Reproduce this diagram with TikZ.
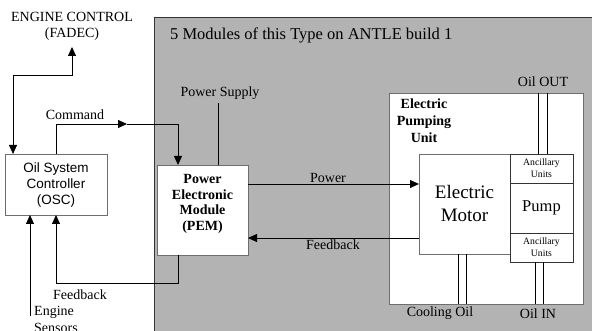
\documentclass[tikz,border=0pt]{standalone}
\usepackage{fontspec}
\setmainfont{Liberation Serif}
\newfontfamily\sansf{Liberation Sans}
\usetikzlibrary{arrows.meta}
\definecolor{bg}{RGB}{179,179,179}
\definecolor{bord}{RGB}{110,110,110}
\begin{document}
\begin{tikzpicture}[x=1pt,y=-1pt,
  box/.style={draw=bord, fill=white, line width=0.8pt, inner sep=0pt, outer sep=0pt, anchor=north west},
  dbox/.style={box, draw=black!80},
  txt/.style={font=\fontsize{14}{16}\selectfont, inner sep=0pt, align=center},
  wire/.style={line width=0.8pt, draw=black},
  tip/.style={-{Triangle[length=9pt,width=8pt]}},
  tips/.style={{Triangle[length=9pt,width=8pt]}-{Triangle[length=9pt,width=8pt]}},
]
\useasboundingbox (0,0) rectangle (592,331);
\fill[white] (0,0) rectangle (592,331);
% grey region
\node[box, draw=black!80, fill=bg, minimum width=460pt, minimum height=330pt] (region) at (154,17) {};
\node[txt, font=\fontsize{16.5}{18}\selectfont, anchor=west] (title) at (170,35) {5 Modules of this Type on ANTLE build 1};

% boxes
\node[box, minimum width=102pt, minimum height=61pt] (osc) at (5,154) {};
\node[txt, font=\sansf\fontsize{13.5}{16}\selectfont] (osct) at (56,185) {Oil System\\Controller\\(OSC)};
\node[box, minimum width=91pt, minimum height=90pt] (pem) at (157,165) {};
\node[txt, font=\bfseries\fontsize{14}{15.6}\selectfont] (pemt) at (202.5,204) {Power\\Electronic\\Module\\(PEM)};
\node[box, minimum width=194pt, minimum height=211pt] (epu) at (389,93) {};
\node[txt, font=\bfseries\fontsize{14}{17}\selectfont] (eput) at (424,121) {Electric\\Pumping\\Unit};
\node[box, minimum width=91pt, minimum height=100pt, font=\fontsize{19}{23}\selectfont, align=center] (motor) at (419,154) {Electric\\Motor};
\node[dbox, minimum width=63pt, minimum height=29pt, font=\fontsize{9.7}{12}\selectfont, align=center] (anc1) at (510,154) {Ancillary\\Units};
\node[dbox, minimum width=63pt, minimum height=50pt, font=\fontsize{16.5}{18}\selectfont] (pump) at (510,183) {Pump};
\node[dbox, minimum width=63pt, minimum height=29pt, font=\fontsize{9.7}{12}\selectfont, align=center] (anc2) at (510,233) {Ancillary\\Units};

% labels
\node[txt] (fadec) at (72,26) {ENGINE CONTROL\\(FADEC)};
\node[txt] (cmdl) at (75,115) {Command};
\node[txt] (fbl) at (80,295) {Feedback};
\node[txt, align=left, anchor=north west, font=\fontsize{14}{17}\selectfont] (sens) at (34,306) {Engine\\Sensors};
\node[txt] (psup) at (220,93) {Power Supply};
\node[txt] (powl) at (328,178) {Power};
\node[txt] (fbr) at (333,245) {Feedback};
\node[txt] (oout) at (543,82) {Oil OUT};
\node[txt] (cool) at (440,313) {Cooling Oil};
\node[txt] (oin) at (538,314) {Oil IN};

% coordinates
\coordinate (fadecin) at (72,47);
\coordinate (cmdmid) at (127,124);
\coordinate (fbmid) at (128,283);
\coordinate (sensend) at (30,316);
\coordinate (psupend) at (218,103);

% connectors
\draw[wire, tips] (fadecin) |- (13,75) -- (osc.north west -| 13,0);
\draw[wire, tip] (osc.north -| 56,0) |- (cmdmid);
\draw[wire, tip] (cmdmid) -| (pem.north -| 178,0);
\draw[wire] (pem.south -| 178,0) |- (fbmid);
\draw[wire, tip] (fbmid) -| (osc.south -| 56,0);
\draw[wire, tip] (sensend) -- (osc.south -| 30,0);
\draw[wire] (psupend) -- (pem.north -| 218,0);
\draw[wire, tip] (pem.east |- 0,184) -- (motor.west |- 0,184);
\draw[wire, tip] (motor.west |- 0,238) -- (pem.east |- 0,238);

% pipes
\draw[wire] (epu.north -| 538,0) -- (anc1.north -| 538,0);
\draw[wire] (epu.north -| 547,0) -- (anc1.north -| 547,0);
\draw[wire] (motor.south -| 458,0) -- (epu.south -| 458,0);
\draw[wire] (motor.south -| 466,0) -- (epu.south -| 466,0);
\draw[wire] (anc2.south -| 535,0) -- (epu.south -| 535,0);
\draw[wire] (anc2.south -| 543,0) -- (epu.south -| 543,0);
\end{tikzpicture}
\end{document}
